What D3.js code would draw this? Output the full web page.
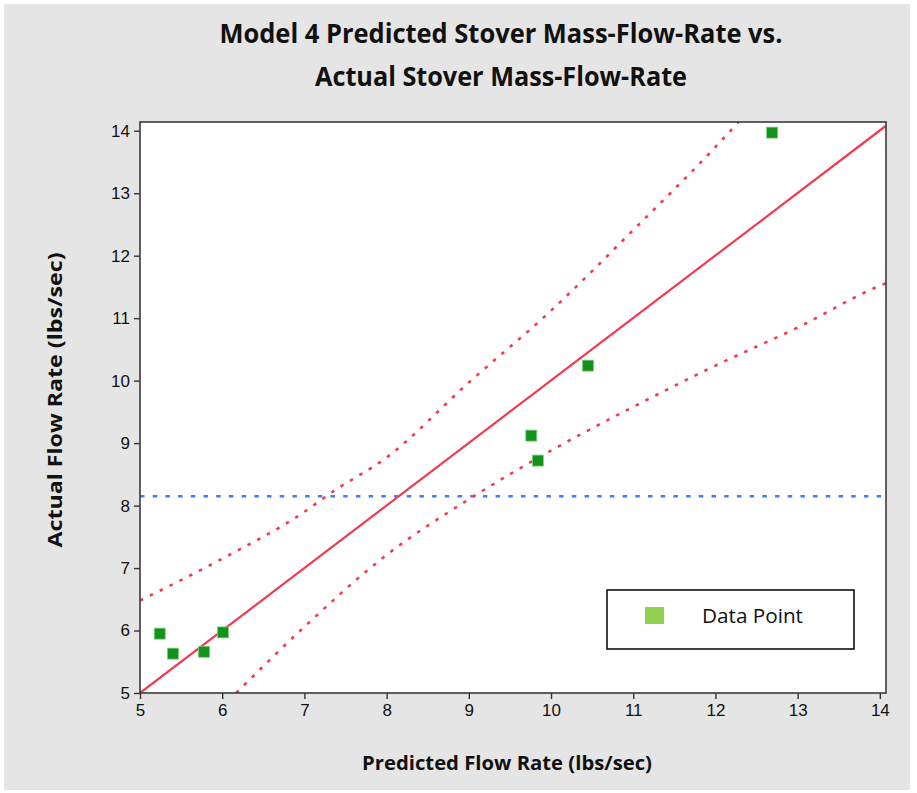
<!DOCTYPE html>
<html>
<head>
<meta charset="utf-8">
<script src="https://cdn.jsdelivr.net/npm/d3@7"></script>
<style>
  html, body { margin: 0; padding: 0; background: #ffffff; }
  svg { display: block; }
</style>
</head>
<body>
<div id="chart"></div>
<script>
  // Data
  const predicted = [5.24, 5.40, 5.78, 6.01, 9.76, 9.84, 10.45, 12.69];
  const actual    = [5.95, 5.63, 5.66, 5.97, 9.12, 8.72, 10.24, 13.97];
  const fitLine   = [[5, 5], [14.075, 14.08]];
  const upperBand = [[5, 6.48], [6, 7.15], [7, 7.9], [7.33, 8.21], [8, 8.77], [9, 9.97],
                     [10, 11.12], [11, 12.41], [12, 13.74], [12.28, 14.14]];
  const lowerBand = [[6.17, 5], [7, 6.06], [8, 7.21], [9, 8.1], [10, 8.88], [11, 9.58],
                     [12, 10.24], [13, 10.85], [14, 11.52], [14.075, 11.56]];
  const meanActual = 8.15;
  const xTicks = [5, 6, 7, 8, 9, 10, 11, 12, 13, 14];
  const yTicks = [5, 6, 7, 8, 9, 10, 11, 12, 13, 14];
  const titleLines = ["Model 4 Predicted Stover Mass-Flow-Rate vs.", "Actual Stover Mass-Flow-Rate"];

  const W = 917, H = 793;
  const plot = { left: 140, right: 886, top: 122, bottom: 693 };

  const svg = d3.select("#chart").append("svg")
      .attr("width", W)
      .attr("height", H);

  // Gray background panel
  svg.append("rect")
      .attr("x", 4).attr("y", 4)
      .attr("width", 906).attr("height", 786)
      .attr("fill", "#e5e5e5");

  // Scales
  const x = d3.scaleLinear().domain([5, 14.075]).range([plot.left, plot.right]);
  const y = d3.scaleLinear().domain([5, 14.14]).range([plot.bottom, plot.top]);

  // Plot area
  svg.append("rect")
      .attr("x", plot.left).attr("y", plot.top)
      .attr("width", plot.right - plot.left)
      .attr("height", plot.bottom - plot.top)
      .attr("fill", "#ffffff");

  svg.append("clipPath").attr("id", "clip")
    .append("rect")
      .attr("x", plot.left).attr("y", plot.top)
      .attr("width", plot.right - plot.left)
      .attr("height", plot.bottom - plot.top);

  const g = svg.append("g").attr("clip-path", "url(#clip)");

  const line = d3.line().x(d => x(d[0])).y(d => y(d[1])).curve(d3.curveMonotoneX);

  // Mean line (blue dotted)
  g.append("line")
      .attr("x1", x(5)).attr("x2", x(14.075))
      .attr("y1", y(meanActual)).attr("y2", y(meanActual))
      .attr("stroke", "#3f7ef8")
      .attr("stroke-width", 2.6)
      .attr("stroke-dasharray", "4.5,8.2");

  // Prediction bands (red dotted)
  [upperBand, lowerBand].forEach(band => {
    g.append("path")
        .attr("d", line(band))
        .attr("fill", "none")
        .attr("stroke", "#f23b50")
        .attr("stroke-width", 2.6)
        .attr("stroke-dasharray", "3.5,7.5");
  });

  // Fit line
  g.append("path")
      .attr("d", line(fitLine))
      .attr("fill", "none")
      .attr("stroke", "#f23b50")
      .attr("stroke-width", 2.2);

  // Data points
  const pts = d3.zip(predicted, actual);
  svg.append("g").selectAll("rect")
      .data(pts)
      .enter().append("rect")
      .attr("x", d => x(d[0]) - 5.5)
      .attr("y", d => y(d[1]) - 5.5)
      .attr("width", 11)
      .attr("height", 11)
      .attr("fill", "#12921b")
      .attr("stroke", "#7fcf7f")
      .attr("stroke-width", 0.8);

  // Axes
  const xAxis = svg.append("g")
      .attr("transform", `translate(0, ${plot.bottom})`)
      .call(d3.axisBottom(x).tickValues(xTicks).tickSize(6).tickSizeOuter(0).tickPadding(5));
  const yAxis = svg.append("g")
      .attr("transform", `translate(${plot.left}, 0)`)
      .call(d3.axisLeft(y).tickValues(yTicks).tickSize(6).tickSizeOuter(0).tickPadding(4));

  [xAxis, yAxis].forEach(a => {
    a.select(".domain").remove();
    a.selectAll(".tick line").attr("stroke", "#333").attr("stroke-width", 1.4);
    a.selectAll(".tick text")
        .attr("fill", "#111")
        .style("font-family", "'Liberation Sans', Arial, sans-serif")
        .style("font-size", "17px");
  });

  // Plot border
  svg.append("rect")
      .attr("x", plot.left).attr("y", plot.top)
      .attr("width", plot.right - plot.left)
      .attr("height", plot.bottom - plot.top)
      .attr("fill", "none")
      .attr("stroke", "#3a3a3a")
      .attr("stroke-width", 1.6);

  // Title
  svg.selectAll(".title")
      .data(titleLines)
      .enter().append("text")
      .attr("class", "title")
      .attr("x", 501)
      .attr("y", (d, i) => 43 + i * 43)
      .attr("text-anchor", "middle")
      .attr("textLength", (d, i) => i === 0 ? 563 : 372)
      .attr("lengthAdjust", "spacingAndGlyphs")
      .style("font-family", "'Open Sans', 'Noto Sans', sans-serif")
      .style("font-weight", "bold")
      .style("font-size", "26px")
      .attr("fill", "#111")
      .text(d => d);

  // Axis labels
  svg.append("text")
      .attr("x", 507)
      .attr("y", 770)
      .attr("text-anchor", "middle")
      .attr("textLength", 290)
      .attr("lengthAdjust", "spacingAndGlyphs")
      .style("font-family", "'Open Sans', 'Noto Sans', sans-serif")
      .style("font-weight", "bold")
      .style("font-size", "20px")
      .attr("fill", "#111")
      .text("Predicted Flow Rate (lbs/sec)");

  svg.append("text")
      .attr("transform", "translate(62, 400) rotate(-90)")
      .attr("text-anchor", "middle")
      .attr("textLength", 295)
      .attr("lengthAdjust", "spacingAndGlyphs")
      .style("font-family", "'Open Sans', 'Noto Sans', sans-serif")
      .style("font-weight", "bold")
      .style("font-size", "20px")
      .attr("fill", "#111")
      .text("Actual Flow Rate (lbs/sec)");

  // Legend
  const legend = svg.append("g");
  legend.append("rect")
      .attr("x", 607).attr("y", 590)
      .attr("width", 247).attr("height", 59)
      .attr("fill", "#ffffff")
      .attr("stroke", "#111")
      .attr("stroke-width", 1.6);
  legend.append("rect")
      .attr("x", 645).attr("y", 607)
      .attr("width", 19).attr("height", 17)
      .attr("fill", "#92d050");
  legend.append("text")
      .attr("x", 702)
      .attr("y", 623)
      .attr("textLength", 101)
      .attr("lengthAdjust", "spacingAndGlyphs")
      .style("font-family", "'Open Sans', 'Noto Sans', sans-serif")
      .style("font-size", "20px")
      .attr("fill", "#111")
      .text("Data Point");
</script>
</body>
</html>
